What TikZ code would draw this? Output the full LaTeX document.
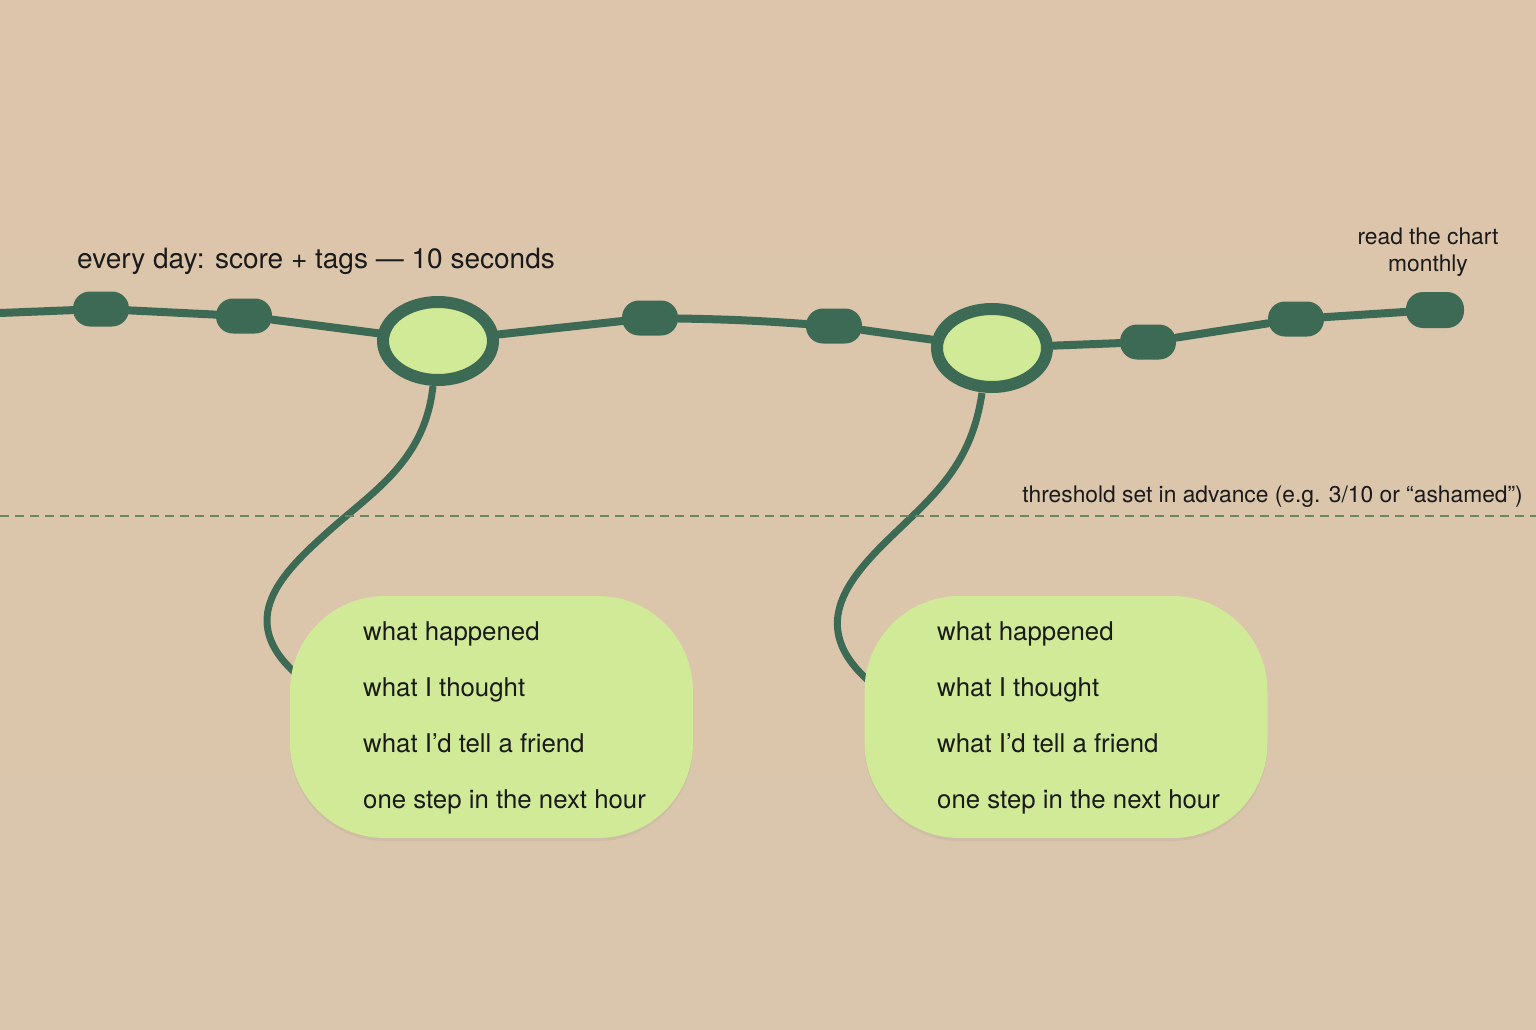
\documentclass[tikz,border=0pt]{standalone}
\usepackage{fontspec}
\setmainfont{TeX Gyre Heros}
\usetikzlibrary{shapes.geometric,shadows}
\definecolor{bgtop}{HTML}{DCC5AA}
\definecolor{bgbot}{HTML}{DAC6AD}
\definecolor{dkgreen}{HTML}{3D6A55}
\definecolor{ltgreen}{HTML}{D0EA97}
\definecolor{dashgreen}{HTML}{6A8763}
\definecolor{ink}{HTML}{1A1A1A}
\pgfdeclarelayer{bg}
\pgfdeclarelayer{lines}
\pgfsetlayers{bg,lines,main}
\begin{document}
\begin{tikzpicture}[x=1pt,y=-1pt,
  pill/.style={rectangle,rounded corners=17pt,fill=dkgreen,minimum width=56pt,minimum height=35pt,inner sep=0pt},
  bigday/.style={ellipse,draw=dkgreen,fill=ltgreen,line width=12pt,minimum width=110pt,minimum height=78pt,inner sep=0pt},
  trail/.style={draw=dkgreen,line width=8pt,line cap=round},
  callout/.style={rectangle,rounded corners=95pt,fill=ltgreen,minimum width=403pt,minimum height=242pt,inner sep=0pt,
    drop shadow={shadow xshift=0pt,shadow yshift=-3pt,opacity=0.12}},
  item/.style={anchor=base west,font=\fontsize{25.8}{30}\selectfont,text=ink,inner sep=0pt},
  lbl/.style={text=ink,inner sep=0pt}]
\begin{pgfonlayer}{bg}
  \shade[top color=bgtop,bottom color=bgbot] (0,0) rectangle (1536,1030);
\end{pgfonlayer}
\useasboundingbox (0,0) rectangle (1536,1030);

% nodes on the trail
\coordinate (start) at (0,313);
\node[pill] (p1) at (101,309) {};
\node[pill] (p2) at (244,316) {};
\node[bigday] (e1) at (438,341) {};
\node[pill] (p3) at (650,318) {};
\node[pill] (p4) at (834,326) {};
\node[bigday] (e2) at (992,348) {};
\node[pill] (p5) at (1148,342) {};
\node[pill] (p6) at (1296,319) {};
\node[pill,minimum width=58pt,minimum height=36pt] (p7) at (1435,310) {};

% callouts
\node[callout] (c1) at (491.5,717) {};
\node[callout] (c2) at (1066,717) {};
\foreach \t [count=\i] in {what happened,what I thought,what I’d tell a friend,one step in the next hour}{
  \node[item] (a\i) at (363,{640+56.3*(\i-1)}) {\t};
  \node[item] (b\i) at (937,{640+56.3*(\i-1)}) {\t};
}

\begin{pgfonlayer}{lines}
  \draw[trail] (start) -- (p1) -- (p2) -- (e1) -- (p3) to[out=-1,in=176] (p4) -- (e2) -- (p5) -- (p6) -- (p7);
  \coordinate (s1) at ([xshift=-5pt]e1.south);
  \coordinate (s2) at ([xshift=-10pt]e2.south);
  \coordinate (k1) at (330,530);
  \coordinate (k2) at (898,530);
  \draw[trail,line width=7pt,line cap=butt] (s1) .. controls (425,460) and (375,490) .. (k1)
     .. controls (283,572) and (232,620) .. ([xshift=10pt,yshift=40pt]c1.west);
  \draw[trail,line width=7pt,line cap=butt] (s2) .. controls (972,460) and (940,490) .. (k2)
     .. controls (852,574) and (802,625) .. ([xshift=8pt,yshift=33pt]c2.west);
  % threshold
  \coordinate (t0) at (0,516);
  \coordinate (t1) at (1536,516);
  \draw[dashgreen,line width=2pt,dash pattern=on 9pt off 6pt] (t0) -- (t1);
\end{pgfonlayer}

% labels
\node[lbl,anchor=base west,font=\fontsize{28}{32}\selectfont] (title) at (77,268) {every day: score + tags — 10 seconds};
\node[lbl,align=center,font=\fontsize{22.8}{27}\selectfont] (monthly) at (1428,252) {read the chart\\monthly};
\node[lbl,anchor=base east,font=\fontsize{22.8}{26}\selectfont] (thr) at (1523,502) {threshold set in advance (e.g. 3/10 or “ashamed”)};
\end{tikzpicture}
\end{document}
